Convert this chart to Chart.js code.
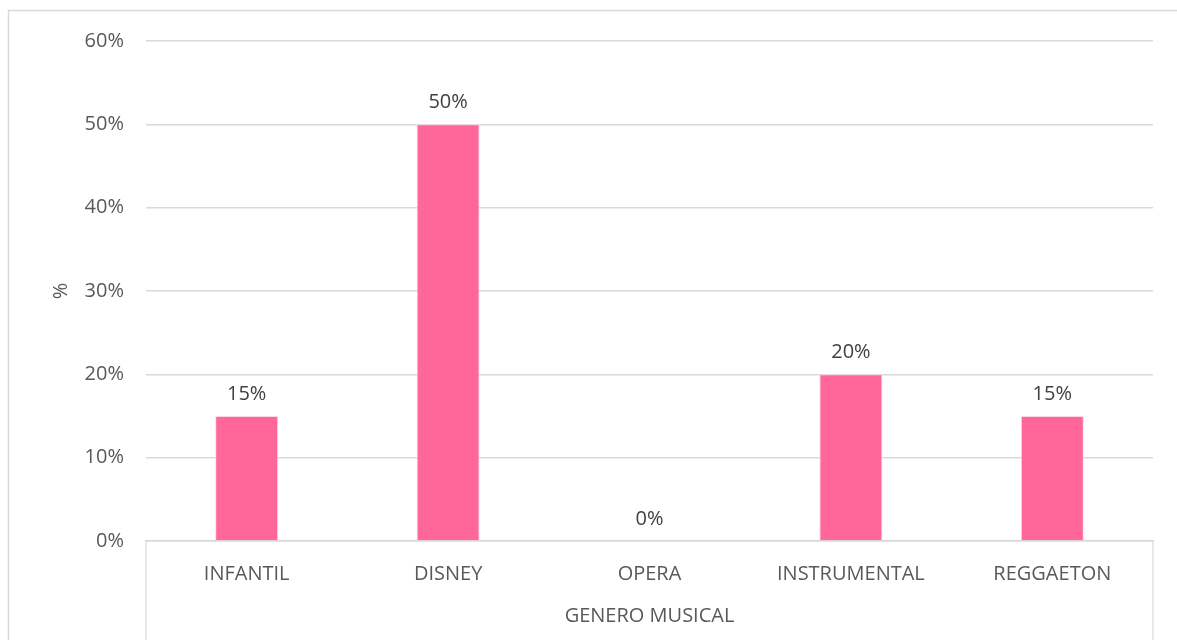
<!DOCTYPE html>
<html>
<head>
<meta charset="utf-8">
<script src="https://cdn.jsdelivr.net/npm/chart.js@4/dist/chart.umd.min.js"></script>
<style>
  html, body { margin: 0; padding: 0; background: #fff; }
  #wrap { width: 1177px; height: 640px; }
</style>
</head>
<body>
<div id="wrap"><canvas id="generoChart" width="1177" height="640"></canvas></div>
<script>
// Preferencia de genero musical (%)
const generos = ["INFANTIL", "DISNEY", "OPERA", "INSTRUMENTAL", "REGGAETON"];
const porcentajes = [15, 50, 0, 20, 15];
const yTicks = [0, 10, 20, 30, 40, 50, 60];

const FONT = "'Open Sans', sans-serif";
const SIZE = 20;
const gridColor = "#d9d9d9";
const textColor = "#595959";

// Frame, second axis level and value labels
const extras = {
  id: "extras",
  afterDraw(chart) {
    const ctx = chart.ctx;
    const area = chart.chartArea;
    ctx.save();
    ctx.strokeStyle = gridColor;
    ctx.lineWidth = 1.5;
    ctx.beginPath();
    ctx.moveTo(8.5, chart.height + 5);
    ctx.lineTo(8.5, 10.5);
    ctx.lineTo(chart.width + 5, 10.5);
    ctx.stroke();

    ctx.lineWidth = 1.2;
    ctx.beginPath();
    ctx.moveTo(area.left, area.bottom);
    ctx.lineTo(area.left, chart.height);
    ctx.moveTo(area.right, area.bottom);
    ctx.lineTo(area.right, chart.height);
    ctx.stroke();

    ctx.fillStyle = "#404040";
    ctx.font = SIZE + "px " + FONT;
    ctx.textAlign = "center";
    ctx.textBaseline = "bottom";
    chart.getDatasetMeta(0).data.forEach((bar, i) => {
      ctx.fillText(porcentajes[i] + "%", bar.x, bar.y - 12);
    });
    ctx.restore();
  }
};

new Chart(document.getElementById("generoChart").getContext("2d"), {
  type: "bar",
  data: {
    labels: generos,
    datasets: [{
      data: porcentajes,
      backgroundColor: "#ff6699",
      borderColor: "#ffd6e4",
      borderWidth: 1,
      barPercentage: 0.313,
      categoryPercentage: 1
    }]
  },
  options: {
    responsive: false,
    animation: false,
    events: [],
    layout: { padding: { top: 41, right: 24, left: 0, bottom: 0 } },
    plugins: {
      legend: { display: false },
      tooltip: { enabled: false }
    },
    scales: {
      x: {
        afterFit(scale) { scale.height = 99; },
        grid: { display: false, drawTicks: false },
        border: { display: true, color: gridColor, width: 1.5 },
        ticks: { color: textColor, padding: 21, font: { family: FONT, size: SIZE } },
        title: {
          display: true,
          text: "GENERO MUSICAL",
          color: textColor,
          padding: { top: 0, bottom: 12 },
          font: { family: FONT, size: SIZE }
        }
      },
      y: {
        min: 0,
        max: 60,
        afterFit(scale) { scale.width = 146; },
        afterBuildTicks(scale) { scale.ticks = yTicks.map(v => ({ value: v })); },
        grid: { color: gridColor, lineWidth: 1.5, drawTicks: false },
        border: { display: false },
        ticks: {
          color: textColor,
          padding: 22,
          font: { family: FONT, size: SIZE },
          callback: v => v + "%"
        },
        title: {
          display: true,
          text: "%",
          color: textColor,
          padding: { top: 49, bottom: 0 },
          font: { family: FONT, size: SIZE }
        }
      }
    }
  },
  plugins: [extras]
});
</script>
</body>
</html>
